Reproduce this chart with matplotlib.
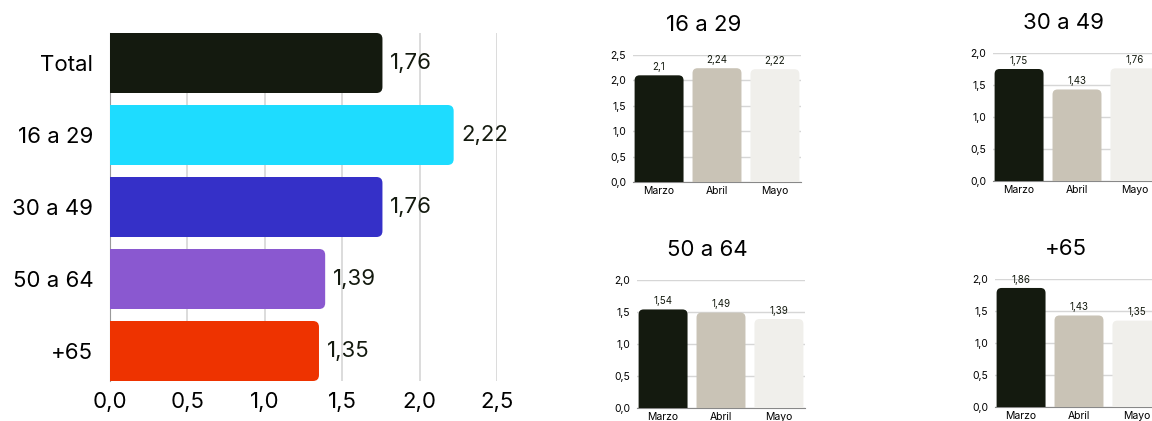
import matplotlib
matplotlib.use("Agg")
import matplotlib.pyplot as plt
from matplotlib.patches import FancyBboxPatch

plt.rcParams['font.family'] = ['Inter', 'DejaVu Sans']

# datos
grupos = ['Total', '16 a 29', '30 a 49', '50 a 64', '+65']
valores = [1.76, 2.22, 1.76, 1.39, 1.35]
colores = ['#141a0f', '#1edcff', '#3530c8', '#8a58d0', '#ee3300']

meses = ['Marzo', 'Abril', 'Mayo']
colores_mes = ['#141a0f', '#c9c3b6', '#f0efeb']
v_16_29 = [2.10, 2.24, 2.22]
v_30_49 = [1.75, 1.43, 1.76]
v_50_64 = [1.54, 1.49, 1.39]
v_65 = [1.86, 1.43, 1.35]

W, H = 1152, 421
fig = plt.figure(figsize=(W / 100, H / 100), dpi=100)


def fmt(v, d=2):
    s = f'{v:.{d}f}'.rstrip('0').rstrip('.') if d == 2 else f'{v:.{d}f}'
    return s.replace('.', ',')


def aspect(ax):
    # px por unidad x / px por unidad y, para esquinas redondas
    pos = ax.get_position()
    x0, x1 = ax.get_xlim()
    y0, y1 = ax.get_ylim()
    ppx = pos.width * W / abs(x1 - x0)
    ppy = pos.height * H / abs(y1 - y0)
    return ppx / ppy


# grafico principal
ax = fig.add_axes([110 / W, 40 / H, 387 / W, 348 / H])
h = 60 / 72
ax.set_xlim(0, 2.5)
ax.set_ylim(len(grupos) - 1 + h / 2, -h / 2)
ma = aspect(ax)
rs = 6 / 154.8
for i, (v, c) in enumerate(zip(valores, colores)):
    p = FancyBboxPatch((-0.1, i - h / 2), v + 0.1, h,
                       boxstyle=f'round,pad=0,rounding_size={rs}',
                       mutation_aspect=ma, fc=c, ec='none', zorder=3)
    ax.add_patch(p)
    ax.text(v + 0.05, i, fmt(v), va='center', ha='left', fontsize=16, color='#141a0f')
ax.set_yticks(range(len(grupos)))
ax.set_yticklabels(grupos, fontsize=16)
ax.set_xticks([0, 0.5, 1.0, 1.5, 2.0, 2.5])
ax.set_xticklabels([fmt(t, 1) for t in ax.get_xticks()], fontsize=16)
ax.tick_params(length=0, pad=12)
ax.tick_params(axis='x', pad=8)
ax.grid(axis='x', color='#d6d6d6', lw=1.2, zorder=0)
for s in ['top', 'right', 'bottom']:
    ax.spines[s].set_visible(False)
ax.spines['left'].set_color('#999999')

# graficos pequeños
paneles = [
    ('16 a 29', v_16_29, 2.5, [633, 182, 127]),
    ('30 a 49', v_30_49, 2.0, [993, 181, 128]),
    ('50 a 64', v_50_64, 2.0, [637, 408, 128]),
    ('+65', v_65, 2.0, [995, 407, 128]),
]
for titulo, vals, ymax, (left, y0px, hpx) in paneles:
    a = fig.add_axes([left / W, (H - y0px) / H, 168 / W, hpx / H])
    a.set_xlim(-0.45, 2.45)
    a.set_ylim(0, ymax)
    m = aspect(a)
    w = 49 / 58
    r = 5 / 58
    for i, (v, c) in enumerate(zip(vals, colores_mes)):
        p = FancyBboxPatch((i - w / 2, -0.2), w, v + 0.2,
                           boxstyle=f'round,pad=0,rounding_size={r}',
                           mutation_aspect=m, fc=c, ec='none', zorder=3)
        a.add_patch(p)
        a.text(i, v + ymax * 0.025, fmt(v), ha='center', va='bottom', fontsize=7,
               color='#141a0f', zorder=4)
    ticks = [t * 0.5 for t in range(int(ymax / 0.5) + 1)]
    a.set_yticks(ticks)
    a.set_yticklabels([fmt(t, 1) for t in ticks], fontsize=7.5)
    a.set_xticks(range(3))
    a.set_xticklabels(meses, fontsize=7.5)
    a.tick_params(length=0, pad=3)
    a.tick_params(axis='y', pad=5)
    a.grid(axis='y', color='#d6d6d6', lw=1, zorder=0)
    for s in ['top', 'right', 'left']:
        a.spines[s].set_visible(False)
    a.spines['bottom'].set_color('#888888')
    a.set_title(titulo, fontsize=16, x=0.42, pad=17)

fig.savefig('out.png', dpi=100)
